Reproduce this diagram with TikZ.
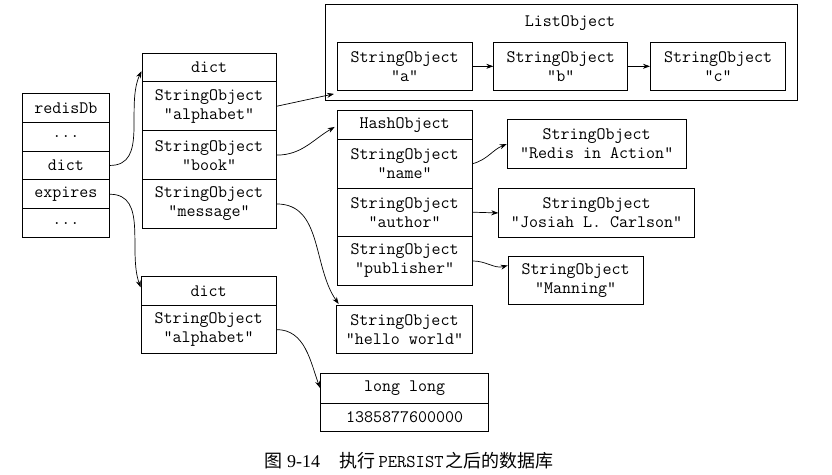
\documentclass[tikz,border=0pt]{standalone}
\usepackage{fontspec}
\setmainfont{Liberation Serif}
\newfontfamily\cjk{Noto Sans CJK SC}
\newcommand\monof{\ttfamily\fontsize{17.5}{19}\selectfont}
\usetikzlibrary{arrows.meta,calc}
\begin{document}
\begin{tikzpicture}[x=1pt,y=1pt,
  cell/.style={draw, line width=0.9pt, inner sep=0pt, anchor=north west, align=center,
    font=\monof},
  arr/.style={-{Stealth[length=7pt,width=5pt]}, line width=0.7pt}]
\fill[white] (0,0) rectangle (832,-474);
\useasboundingbox (0,0) rectangle (832,-474);

% redisDb
\node[cell, minimum width=87pt, minimum height=28.8pt] (r0) at (22,-93) {redisDb};
\node[cell, minimum width=87pt, minimum height=28.8pt] (r1) at (22,-121.8) {...};
\node[cell, minimum width=87pt, minimum height=28.8pt] (r2) at (22,-150.6) {dict};
\node[cell, minimum width=87pt, minimum height=28.8pt] (r3) at (22,-179.4) {expires};
\node[cell, minimum width=87pt, minimum height=28.8pt] (r4) at (22,-208.2) {...};

% top dict
\node[cell, minimum width=134.2pt, minimum height=28.6pt] (d0) at (141.5,-52.7) {dict};
\node[cell, minimum width=134.2pt, minimum height=49pt] (d1) at (141.5,-81.3) {StringObject\\"alphabet"};
\node[cell, minimum width=134.2pt, minimum height=48.7pt] (d2) at (141.5,-130.3) {StringObject\\"book"};
\node[cell, minimum width=134.2pt, minimum height=49pt] (d3) at (141.5,-179) {StringObject\\"message"};

% ListObject
\node[cell, minimum width=472pt, minimum height=95.5pt] (L) at (325,-4) {};
\node[font=\monof, inner sep=0pt] (Lt) at (570,-22.7) {ListObject};
\node[cell, minimum width=135pt, minimum height=48.3pt] (a) at (336.7,-41.7) {StringObject\\"a"};
\node[cell, minimum width=134pt, minimum height=48.3pt] (b) at (493.3,-41.7) {StringObject\\"b"};
\node[cell, minimum width=135.3pt, minimum height=48.3pt] (c) at (650,-41.7) {StringObject\\"c"};

% HashObject
\node[cell, minimum width=135pt, minimum height=29pt] (h0) at (336.7,-110) {HashObject};
\node[cell, minimum width=135pt, minimum height=48.5pt] (h1) at (336.7,-139) {StringObject\\"name"};
\node[cell, minimum width=135pt, minimum height=48.5pt] (h2) at (336.7,-187.5) {StringObject\\"author"};
\node[cell, minimum width=135pt, minimum height=49pt] (h3) at (336.7,-236) {StringObject\\"publisher"};

\node[cell, minimum width=179pt, minimum height=49.3pt] (s1) at (506.7,-119) {StringObject\\"Redis in Action"};
\node[cell, minimum width=195.7pt, minimum height=48.4pt] (s2) at (498.3,-188.3) {StringObject\\"Josiah L. Carlson"};
\node[cell, minimum width=135pt, minimum height=48.6pt] (s3) at (507.7,-255.7) {StringObject\\"Manning"};

\node[cell, minimum width=136.6pt, minimum height=48.3pt] (hw) at (335.7,-305) {StringObject\\"hello world"};

% bottom dict
\node[cell, minimum width=135pt, minimum height=29pt] (e0) at (140.7,-276) {dict};
\node[cell, minimum width=135pt, minimum height=48.3pt] (e1) at (140.7,-305) {StringObject\\"alphabet"};

% long long
\node[cell, minimum width=168.3pt, minimum height=29.4pt] (l0) at (320,-373.3) {long long};
\node[cell, minimum width=168.3pt, minimum height=28pt] (l1) at (320,-402.7) {1385877600000};

% connectors
\draw[arr] (r2.east) to[out=0,in=-115] ($(d0.west)+(0,-3.7)$);
\draw[arr] (r3.east) to[out=0,in=110] ($(e0.west)+(0,3.5)$);
\draw[arr] (d1.east) to[out=12,in=-168] ($(L.south west)+(9,6.5)$);
\draw[arr] (d2.east) to[out=0,in=-150] ($(h0.west)+(-2,-2)$);
\draw[arr] (d3.east) to[out=0,in=125] ($(hw.north west)+(3,1)$);
\draw[arr] (e1.east) to[out=0,in=110] ($(l0.west)+(0,0.5)$);
\draw[arr] (a.east) -- (b.west);
\draw[arr] (b.east) -- (c.west);
\draw[arr] (h1.east) to[out=15,in=-158] (s1.west);
\draw[arr] (h2.east) -- (s2.west);
\draw[arr] (h3.east) to[out=0,in=-165] ($(s3.west)+(0,15)$);

% caption
\node[inner sep=0pt] (cap) at (409,-461) {\cjk\fontsize{18}{18}\selectfont 图\hspace{0.25em}{\rmfamily\fontsize{18}{18}\selectfont 9-14}\hspace{1.1em}执行\hspace{0.15em}{\ttfamily\fontsize{18}{18}\selectfont PERSIST}\hspace{0.1em}之后的数据库};
\end{tikzpicture}
\end{document}
